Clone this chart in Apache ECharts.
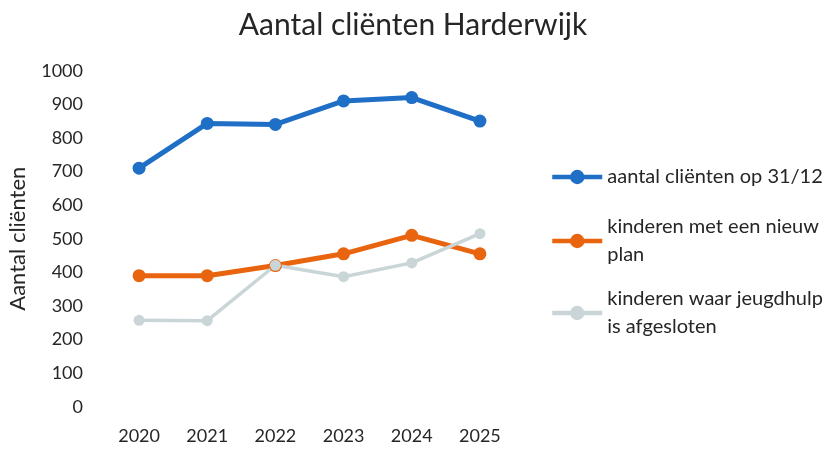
<!DOCTYPE html>
<html>
<head>
<meta charset="utf-8">
<script src="https://cdn.jsdelivr.net/npm/echarts@6/dist/echarts.min.js"></script>
<style>
  html, body { margin: 0; padding: 0; background: #fff; }
  #chart { width: 830px; height: 450px; }
</style>
</head>
<body>
<div id="chart"></div>
<script>
// Jaren op de x-as
const years = ['2020', '2021', '2022', '2023', '2024', '2025'];

// Reeksnamen
const nameClients = 'aantal cliënten op 31/12';
const nameNewPlan = 'kinderen met een nieuw plan';
const nameClosed = 'kinderen waar jeugdhulp is afgesloten';

// Waarden per reeks
const clients = [710, 843, 840, 910, 920, 850];
const newPlan = [390, 390, 420, 455, 510, 455];
const closed = [257, 256, 421, 387, 428, 515];

// Y-as schaal
const yMin = 0;
const yMax = 1000;
const yStep = 100;

const FONT = 'Lato';
const TEXT = '#262626';

const chart = echarts.init(document.getElementById('chart'), null, { renderer: 'canvas' });

function legendFor(name, top, twoLines) {
  return {
    show: true,
    data: [name],
    left: 550,
    top: top,
    padding: 0,
    orient: 'vertical',
    itemWidth: 50,
    itemHeight: 18,
    lineStyle: { width: 4.5 },
    formatter: function (n) {
      if (n === nameNewPlan) return 'kinderen met een nieuw\nplan';
      if (n === nameClosed) return 'kinderen waar jeugdhulp\nis afgesloten';
      return n;
    },
    textStyle: {
      fontFamily: FONT,
      fontSize: 20,
      color: TEXT,
      lineHeight: 28,
      padding: twoLines ? [28, 0, 0, 0] : 0
    }
  };
}

function lineSeries(name, data, color, width, symbolSize) {
  return {
    name: name,
    type: 'line',
    data: data,
    symbol: 'circle',
    symbolSize: symbolSize,
    showSymbol: true,
    lineStyle: { color: color, width: width },
    itemStyle: { color: color },
    emphasis: { disabled: true },
    animation: false
  };
}

chart.setOption({
  backgroundColor: '#ffffff',
  animation: false,
  title: {
    text: 'Aantal cliënten Harderwijk',
    left: 408,
    textAlign: 'center',
    top: 5,
    textStyle: { fontFamily: FONT, fontSize: 30, fontWeight: 'normal', color: TEXT }
  },
  legend: [
    legendFor(nameClients, 163, false),
    legendFor(nameNewPlan, 199, true),
    legendFor(nameClosed, 271, true)
  ],
  grid: { left: 105, right: 316, top: 70.7, bottom: 43.3, containLabel: false },
  xAxis: {
    type: 'category',
    data: years,
    boundaryGap: true,
    axisLine: { show: false },
    axisTick: { show: false },
    splitLine: { show: false },
    axisLabel: { fontFamily: FONT, fontSize: 18, color: TEXT, margin: 20 }
  },
  yAxis: {
    type: 'value',
    min: yMin,
    max: yMax,
    interval: yStep,
    name: 'Aantal cliënten',
    nameLocation: 'middle',
    nameGap: 76,
    nameTextStyle: { fontFamily: FONT, fontSize: 22, color: TEXT },
    axisLine: { show: false },
    axisTick: { show: false },
    splitLine: { show: false },
    axisLabel: {
      fontFamily: FONT, fontSize: 18, color: TEXT, margin: 22,
      formatter: function (v) { return String(v); }
    }
  },
  series: [
    lineSeries(nameClients, clients, '#1f6fc6', 5, 13),
    lineSeries(nameNewPlan, newPlan, '#e9640f', 5, 13),
    lineSeries(nameClosed, closed, '#cad5d8', 3.5, 11)
  ]
});
</script>
</body>
</html>
